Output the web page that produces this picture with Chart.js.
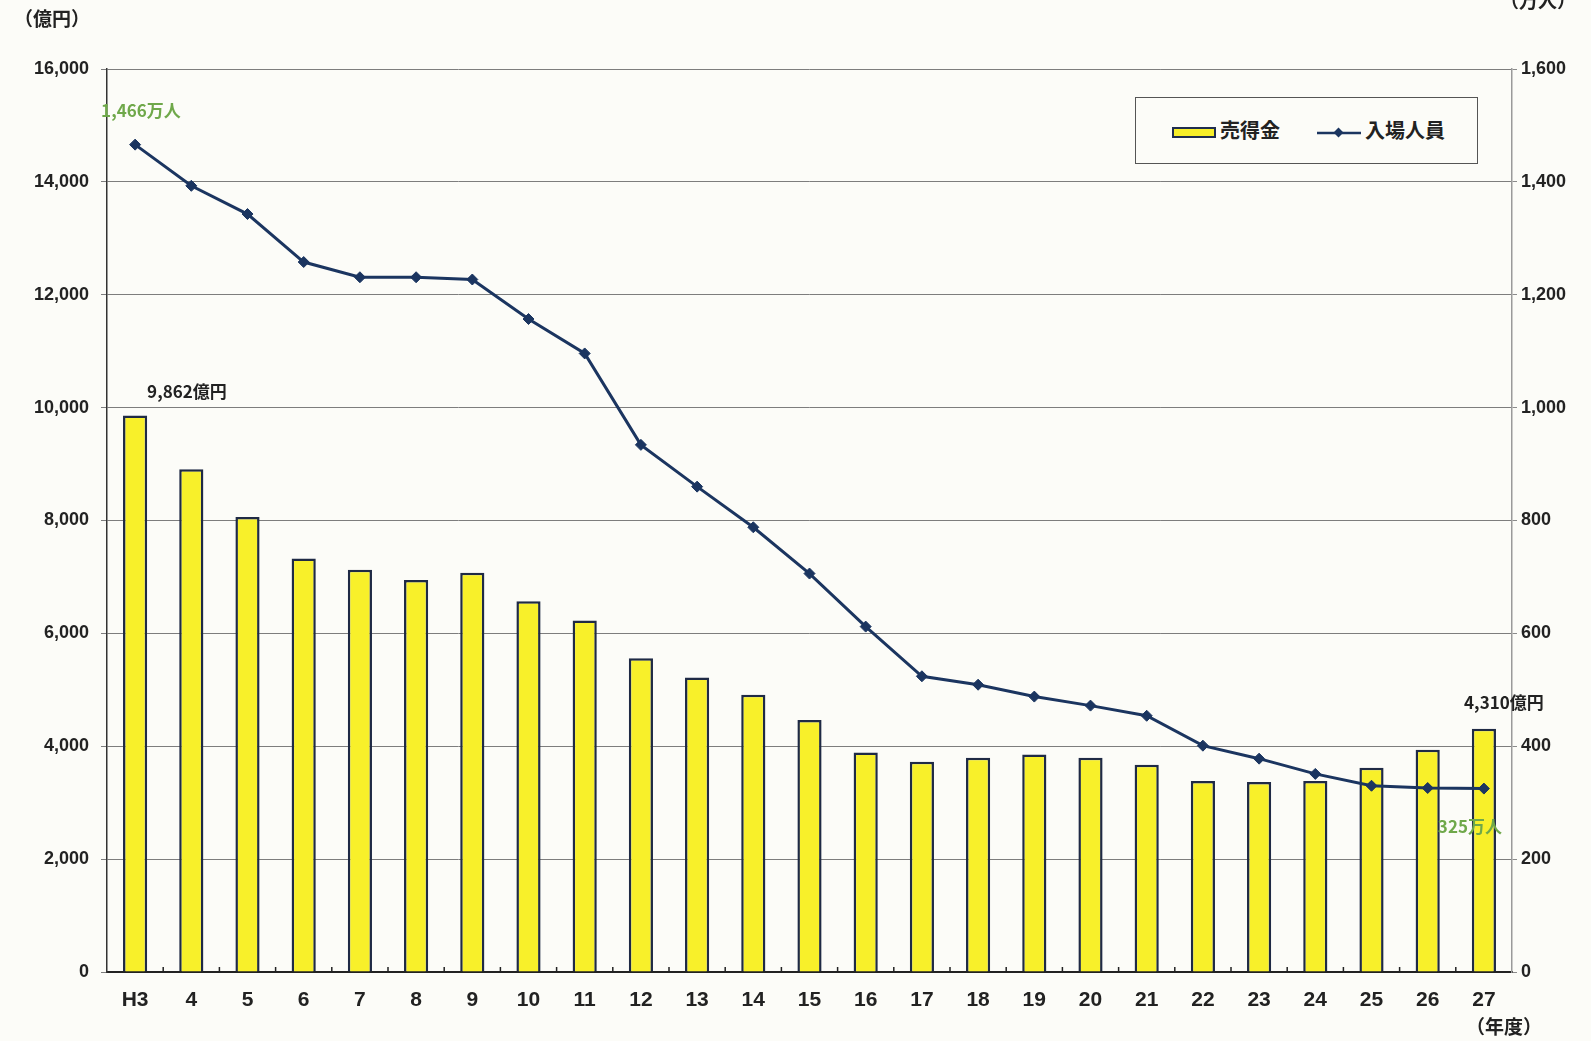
<!DOCTYPE html>
<html lang="ja">
<head>
<meta charset="utf-8">
<title>売得金・入場人員の推移</title>
<script src="https://cdn.jsdelivr.net/npm/chart.js@4.4.1/dist/chart.umd.min.js"></script>
<style>
  html, body { margin: 0; padding: 0; background: #fcfcf8; }
  #wrap { position: relative; width: 1591px; height: 1041px; overflow: hidden;
          font-family: 'Noto Sans CJK JP', 'Liberation Sans', sans-serif; color: #222; }
  canvas { position: absolute; left: 0; top: 0; }
  .unit { position: absolute; font-size: 19px; font-weight: bold; white-space: nowrap; }
  #legend { position: absolute; left: 1135px; top: 97px; width: 343px; height: 67px;
            border: 1.5px solid #555; background: #fcfcf8; box-sizing: border-box; }
  .lg { position: absolute; top: 20px; font-size: 20px; font-weight: bold; line-height: 24px; white-space: nowrap; }
  .swatch { display: inline-block; vertical-align: middle; }
</style>
</head>
<body>
<div id="wrap">
  <canvas id="chart" width="1591" height="1041"></canvas>
  <div class="unit" style="left:14px; top:4px;">（億円）</div>
  <div class="unit" style="left:1500px; top:-14px;">（万人）</div>
  <div class="unit" style="left:1466px; top:1012px;">（年度）</div>
  <div id="legend">
    <div class="lg" style="left:36px;">
      <span class="swatch" style="width:40px;height:7px;background:#f6ee2a;border:2px solid #1f2d4f;margin-right:4px;"></span>売得金
    </div>
    <div class="lg" style="left:181px;">
      <svg class="swatch" width="44" height="12" style="margin-right:4px;">
        <line x1="0" y1="6" x2="44" y2="6" stroke="#1b3560" stroke-width="2.5"/>
        <rect x="18" y="2" width="7" height="7" fill="#1b3560" transform="rotate(45 21.5 5.5)"/>
      </svg>入場人員
    </div>
  </div>
</div>
<script>
// 年度 (平成)
const years = ['H3', '4', '5', '6', '7', '8', '9', '10', '11', '12', '13', '14', '15',
               '16', '17', '18', '19', '20', '21', '22', '23', '24', '25', '26', '27'];
// 売得金 (億円)
const sales = [9862, 8910, 8063, 7325, 7127, 6947, 7073, 6570, 6227, 5561, 5220, 4914, 4464,
               3888, 3726, 3798, 3852, 3798, 3672, 3384, 3366, 3384, 3620, 3940, 4310];
// 入場人員 (万人)
const visitors = [1466, 1393, 1343, 1258, 1231, 1231, 1227, 1157, 1096, 934, 860, 788, 706,
                  612, 524, 509, 488, 472, 454, 401, 378, 351, 330, 326, 325];

const leftTicks = [0, 2000, 4000, 6000, 8000, 10000, 12000, 14000, 16000];
const rightTicks = [0, 200, 400, 600, 800, 1000, 1200, 1400, 1600];

const numFont = { family: "'Liberation Sans', Arial, sans-serif", size: 18, weight: 'bold' };
const cjkFont = "bold 17px 'Noto Sans CJK JP', sans-serif";
const GREEN = '#6fa84a';

/* annotations + small x ticks */
const extras = {
    id: 'extras',
    afterDatasetsDraw(chart) {
        const { ctx, scales: { x, y, y1 }, chartArea } = chart;
        ctx.save();
        // small upward tick marks between categories
        ctx.strokeStyle = '#222';
        ctx.lineWidth = 1.5;
        for (let i = 1; i < years.length; i++) {
            const px = (x.getPixelForValue(i - 1) + x.getPixelForValue(i)) / 2;
            ctx.beginPath();
            ctx.moveTo(px, chartArea.bottom);
            ctx.lineTo(px, chartArea.bottom - 5);
            ctx.stroke();
        }
        ctx.font = cjkFont;
        ctx.textBaseline = 'middle';
        const last = years.length - 1;
        // 売得金 labels
        ctx.fillStyle = '#222';
        ctx.textAlign = 'left';
        ctx.fillText(sales[0].toLocaleString() + '億円', x.getPixelForValue(0) + 12, y.getPixelForValue(sales[0]) - 24);
        ctx.textAlign = 'center';
        ctx.fillText(sales[last].toLocaleString() + '億円', x.getPixelForValue(last) + 20, y.getPixelForValue(sales[last]) - 26);
        // 入場人員 labels
        ctx.fillStyle = GREEN;
        ctx.textAlign = 'left';
        ctx.fillText(visitors[0].toLocaleString() + '万人', x.getPixelForValue(0) - 34, y1.getPixelForValue(visitors[0]) - 34);
        ctx.textAlign = 'center';
        ctx.fillText(visitors[last] + '万人', x.getPixelForValue(last) - 14, y1.getPixelForValue(visitors[last]) + 38);
        ctx.restore();
    }
};

new Chart(document.getElementById('chart').getContext('2d'), {
    data: {
        labels: years,
        datasets: [
            {
                type: 'line', label: '入場人員', data: visitors, yAxisID: 'y1', order: 0,
                borderColor: '#1b3560', backgroundColor: '#1b3560', borderWidth: 3,
                pointStyle: 'rectRot', pointRadius: 5.5, pointBorderWidth: 1, tension: 0,
            },
            {
                type: 'bar', label: '売得金', data: sales, yAxisID: 'y', order: 1,
                backgroundColor: '#f8f02a', borderColor: '#1f2a45', borderWidth: 2.5,
                barPercentage: 0.43, categoryPercentage: 1,
            },
        ],
    },
    options: {
        responsive: false,
        animation: false,
        layout: { padding: { top: 69, left: 0, right: 0, bottom: 0 } },
        plugins: { legend: { display: false }, tooltip: { enabled: false } },
        scales: {
            x: {
                offset: true,
                afterFit: s => { s.height = 69; },
                grid: { display: false },
                border: { color: '#222', width: 2 },
                ticks: { color: '#222', padding: 8, font: { ...numFont, size: 21 } },
            },
            y: {
                position: 'left', min: 0, max: 16000,
                afterFit: s => { s.width = 107; },
                afterBuildTicks: s => { s.ticks = leftTicks.map(v => ({ value: v })); },
                grid: { color: '#7d7d7d', lineWidth: 1, tickLength: 6 },
                border: { color: '#333', width: 1.5 },
                ticks: { color: '#222', padding: 12, font: numFont,
                         callback: v => v.toLocaleString() },
            },
            y1: {
                position: 'right', min: 0, max: 1600,
                afterFit: s => { s.width = 79; },
                afterBuildTicks: s => { s.ticks = rightTicks.map(v => ({ value: v })); },
                grid: { drawOnChartArea: false, color: '#8a8a8a', tickLength: 5 },
                border: { color: '#9a9a9a', width: 1.5 },
                ticks: { color: '#222', padding: 4, font: numFont,
                         callback: v => v.toLocaleString() },
            },
        },
    },
    plugins: [extras],
});
</script>
</body>
</html>
